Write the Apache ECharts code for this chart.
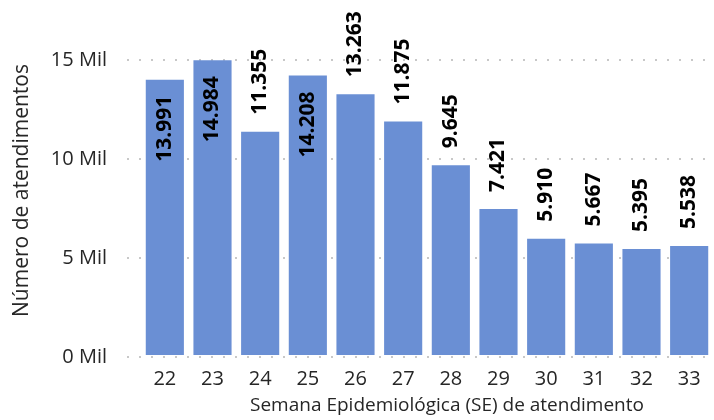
<!DOCTYPE html>
<html>
<head>
<meta charset="utf-8">
<script src="https://cdn.jsdelivr.net/npm/echarts@6/dist/echarts.min.js"></script>
<style>html,body{margin:0;padding:0;background:#fff}#c{width:714px;height:420px}</style>
</head>
<body>
<div id="c"></div>
<script>
const categories = ['22','23','24','25','26','27','28','29','30','31','32','33'];
const values = [13991, 14984, 11355, 14208, 13263, 11875, 9645, 7421, 5910, 5667, 5395, 5538];
const insideIdx = [0, 1, 3];
const yTicks = [0, 5000, 10000, 15000];

const fmt = v => v.toLocaleString('de-DE');
const font = '"Open Sans", "Noto Sans", sans-serif';

const data = values.map((v, i) => {
  const inside = insideIdx.indexOf(i) >= 0;
  return {
    value: v,
    label: inside
      ? { position: 'insideTop', rotate: 90, align: 'right', verticalAlign: 'middle', distance: 16 }
      : { position: 'top', rotate: 90, align: 'left', verticalAlign: 'middle', distance: 17 }
  };
});

const chart = echarts.init(document.getElementById('c'));
chart.setOption({
  animation: false,
  grid: [
    { left: 141, right: 1, top: 60, bottom: 63 },
    { left: 127, right: 4, top: 60, bottom: 63 }
  ],
  xAxis: [
    {
      gridIndex: 0, type: 'category', data: categories,
      axisLine: { show: false }, axisTick: { show: false },
      axisLabel: { color: '#262626', fontSize: 20, fontFamily: font, margin: 14 },
      name: 'Semana Epidemiológica (SE) de atendimento',
      nameLocation: 'middle', nameGap: 41,
      nameTextStyle: { color: '#262626', fontSize: 19, fontFamily: font, padding: [0, 0, 0, 40] }
    },
    { gridIndex: 1, type: 'value', show: false }
  ],
  yAxis: [
    {
      gridIndex: 0, type: 'value', min: 0, max: 15000, interval: 5000,
      axisLine: { show: false }, axisTick: { show: false }, axisLabel: { show: false },
      splitLine: { show: false }
    },
    {
      gridIndex: 1, type: 'value', min: yTicks[0], max: yTicks[yTicks.length - 1], interval: 5000,
      axisLine: { show: false }, axisTick: { show: false },
      axisLabel: { color: '#262626', fontSize: 20, fontFamily: font, margin: 20,
        formatter: v => (v / 1000) + ' Mil' },
      splitLine: { show: true, lineStyle: { color: '#c8c8c8', width: 2, type: [2, 10] } },
      name: 'Número de atendimentos',
      nameLocation: 'middle', nameGap: 94,
      nameTextStyle: { color: '#262626', fontSize: 21, fontFamily: font, padding: [0, 0, 0, 36] }
    }
  ],
  series: [
    { type: 'scatter', xAxisIndex: 1, yAxisIndex: 1, data: [], silent: true },
    {
      type: 'bar', xAxisIndex: 0, yAxisIndex: 0, data: data,
      barCategoryGap: '20%',
      itemStyle: { color: '#6a8fd4' },
      label: { show: true, color: '#000', fontWeight: 'bold', fontSize: 21, fontFamily: font,
        formatter: p => fmt(p.value) }
    }
  ]
});
</script>
</body>
</html>
